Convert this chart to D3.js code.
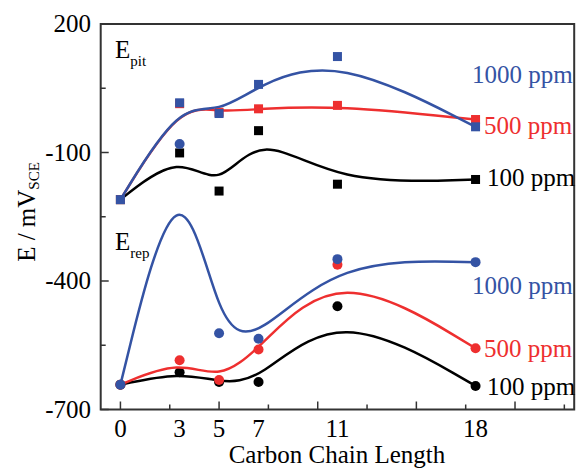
<!DOCTYPE html>
<html>
<head>
<meta charset="utf-8">
<script src="https://cdn.jsdelivr.net/npm/d3@7/dist/d3.min.js"></script>
<style>
  html, body { margin: 0; padding: 0; background: #fff; }
  svg { display: block; }
</style>
</head>
<body>
<svg id="chart" width="576" height="469"></svg>
<script>
// ---- data ----
const chainLengths = [0, 3, 5, 7, 11, 18];
const xTickLabels = ["0", "3", "5", "7", "11", "18"];
const yTickLabels = [200, -100, -400, -700];
const yMinorTicks = [50, -250, -550];
const xAxisTicks = [0, 2.5, 5, 7.5, 10, 12.5, 15, 17.5, 20, 22.5];

const pit100 = [-210, -101, -190, -49, -174, -163];
const pit500 = [-210, 14, -6, 2, 10, -23];
const pit1000 = [-210, 16, -9, 59, 124, -40];

const rep100 = [-642, -613, -636, -636, -459, -645];
const rep500 = [-642, -585, -631, -560, -362, -557];
const rep1000 = [-642, -80, -522, -535, -349, -356];

const seriesNames = ["100 ppm", "500 ppm", "1000 ppm"];

// ---- layout ----
const BLACK = "#000000", RED = "#ee2f2f", BLUE = "#3453a4";
const SERIF = "'Liberation Serif', 'Times New Roman', Times, 'DejaVu Serif', serif";
const svg = d3.select("#chart").attr("font-family", SERIF);
const pLeft = 100.7, pRight = 574.2, pTop = 24, pBottom = 409.5;

const x = d3.scaleLinear().domain([-1, 23]).range([pLeft, pRight]);
const y = d3.scaleLinear().domain([-700, 200]).range([pBottom, pTop]);

const FONT = 25;

// frame
svg.append("rect")
  .attr("x", pLeft).attr("y", pTop)
  .attr("width", pRight - pLeft).attr("height", pBottom - pTop)
  .attr("fill", "none").attr("stroke", "#333").attr("stroke-width", 2);

// x ticks (inward)
svg.append("g").selectAll("line").data(xAxisTicks).join("line")
  .attr("x1", d => x(d)).attr("x2", d => x(d))
  .attr("y1", pBottom).attr("y2", (d, i) => pBottom - (i % 2 === 0 ? 8 : 5))
  .attr("stroke", "#333").attr("stroke-width", 1.5);

// x labels
svg.append("g").selectAll("text").data(chainLengths).join("text")
  .attr("font-family", SERIF)
  .attr("x", d => x(d)).attr("y", 437)
  .attr("text-anchor", "middle").attr("font-size", FONT).attr("fill", "#000")
  .text((d, i) => xTickLabels[i]);

svg.append("text")
  .attr("font-family", SERIF)
  .attr("x", 337).attr("y", 463)
  .attr("text-anchor", "middle").attr("font-size", FONT).attr("fill", "#000")
  .text("Carbon Chain Length");

// y ticks
svg.append("g").selectAll("line").data(yTickLabels).join("line")
  .attr("x1", pLeft).attr("x2", pLeft + 8)
  .attr("y1", d => y(d)).attr("y2", d => y(d))
  .attr("stroke", "#333").attr("stroke-width", 1.5);
svg.append("g").selectAll("line").data(yMinorTicks).join("line")
  .attr("x1", pLeft).attr("x2", pLeft + 5)
  .attr("y1", d => y(d)).attr("y2", d => y(d))
  .attr("stroke", "#333").attr("stroke-width", 1.5);
svg.append("g").selectAll("text").data(yTickLabels).join("text")
  .attr("font-family", SERIF)
  .attr("x", 91).attr("y", d => y(d) + 8)
  .attr("text-anchor", "end").attr("font-size", FONT).attr("fill", "#000")
  .text(d => d);

// y title
const yt = svg.append("text")
  .attr("font-family", SERIF)
  .attr("transform", "translate(35,212) rotate(-90)")
  .attr("text-anchor", "middle").attr("font-size", FONT).attr("fill", "#000");
yt.append("tspan").text("E / mV");
yt.append("tspan").attr("font-size", 15).attr("dy", 4).text("SCE");

// panel labels
function panelLabel(px, py, sub) {
  const t = svg.append("text").attr("x", px).attr("y", py)
    .attr("font-family", SERIF)
    .attr("font-size", FONT).attr("fill", "#000");
  t.append("tspan").text("E");
  t.append("tspan").attr("font-size", 15).attr("dy", 8).text(sub);
}
panelLabel(115, 58, "pit");
panelLabel(115, 250, "rep");

// curves
const line = d3.line()
  .x((d, i) => x(chainLengths[i]))
  .y(d => y(d))
  .curve(d3.curveBasis);

const series = [
  { vals: pit100, color: BLACK, shape: "square" },
  { vals: pit500, color: RED, shape: "square" },
  { vals: pit1000, color: BLUE, shape: "square" },
  { vals: rep100, color: BLACK, shape: "circle" },
  { vals: rep500, color: RED, shape: "circle" },
  { vals: rep1000, color: BLUE, shape: "circle" }
];

series.forEach(s => {
  const g = svg.append("g");
  g.append("path").attr("d", line(s.vals))
    .attr("fill", "none").attr("stroke", s.color).attr("stroke-width", 2.5);
  if (s.shape === "square") {
    g.selectAll("rect").data(s.vals).join("rect")
      .attr("x", (d, i) => x(chainLengths[i]) - 4.5)
      .attr("y", d => y(d) - 4.5)
      .attr("width", 9).attr("height", 9)
      .attr("fill", s.color);
  } else {
    g.selectAll("circle").data(s.vals).join("circle")
      .attr("cx", (d, i) => x(chainLengths[i]))
      .attr("cy", d => y(d))
      .attr("r", 5).attr("fill", s.color);
  }
});

// series labels
const colors = [BLACK, RED, BLUE];
const pitLabelPos = [[487, 186], [484, 134], [472, 83]];
const repLabelPos = [[487, 395], [484, 357], [472, 294]];
seriesNames.forEach((n, i) => {
  svg.append("text").attr("font-family", SERIF)
    .attr("x", pitLabelPos[i][0]).attr("y", pitLabelPos[i][1])
    .attr("font-size", FONT).attr("fill", colors[i]).text(n);
  svg.append("text").attr("font-family", SERIF)
    .attr("x", repLabelPos[i][0]).attr("y", repLabelPos[i][1])
    .attr("font-size", FONT).attr("fill", colors[i]).text(n);
});
</script>
</body>
</html>
